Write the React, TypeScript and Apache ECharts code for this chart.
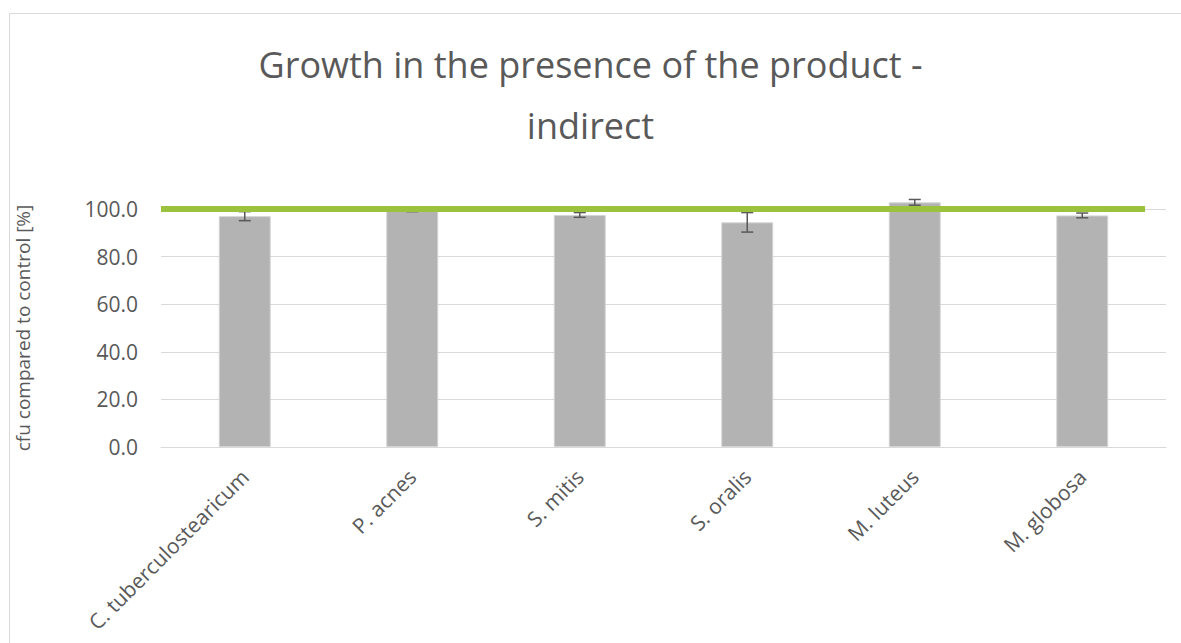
import React, { useEffect, useRef } from "react";
import * as echarts from "echarts";

const categories = [
  "C. tuberculostearicum",
  "P. acnes",
  "S. mitis",
  "S. oralis",
  "M. luteus",
  "M. globosa",
];
const growthValues = [97.0, 99.3, 97.5, 94.4, 102.8, 97.3];
const errorValues = [1.9, 0.4, 1.0, 4.1, 1.2, 1.0];
const controlLineX = [0, 5.875];
const controlLineY = [100, 100];
const yTicks = [0, 20, 40, 60, 80, 100];
const titleLines = ["Growth in the presence of the product -", "indirect"];

const TEXT = "#595959";
const FONT = "'Open Sans', 'Noto Sans', sans-serif";

export default function App() {
  const ref = useRef<HTMLDivElement>(null);
  useEffect(() => {
    if (!ref.current) return;
    const chart = echarts.init(ref.current, undefined, { renderer: "svg" });
    const option: any = {
      animation: false,
      backgroundColor: "#ffffff",
      textStyle: { fontFamily: FONT, color: TEXT },
      graphic: [
        {
          type: "rect",
          shape: { x: 9.5, y: 13.5, width: 1200, height: 700 },
          style: { fill: "none", stroke: "#d9d9d9", lineWidth: 1 },
          silent: true,
          z: -10,
        },
        {
          type: "text",
          x: 590.5,
          y: 46,
          style: {
            text: titleLines[0],
            fill: TEXT,
            font: `normal 36px ${FONT}`,
            textAlign: "center",
            textVerticalAlign: "top",
          },
          silent: true,
        },
        {
          type: "text",
          x: 590.5,
          y: 107,
          style: {
            text: titleLines[1],
            fill: TEXT,
            font: `normal 36px ${FONT}`,
            textAlign: "center",
            textVerticalAlign: "top",
          },
          silent: true,
        },
      ],
      grid: { left: 161, right: 15, top: 209, bottom: 196, containLabel: false },
      xAxis: [
        {
          type: "category",
          data: categories,
          axisLine: { lineStyle: { color: "#d9d9d9", width: 1 } },
          axisTick: { show: false },
          axisLabel: {
            rotate: 45,
            interval: 0,
            color: TEXT,
            fontFamily: FONT,
            fontSize: 21,
            margin: 26,
          },
        },
        {
          type: "value",
          min: 0,
          max: 6,
          show: false,
        },
      ],
      yAxis: {
        type: "value",
        min: 0,
        max: 100,
        interval: 20,
        name: "cfu compared to control [%]",
        nameLocation: "middle",
        nameGap: 129,
        nameTextStyle: { color: TEXT, fontFamily: FONT, fontSize: 19 },
        axisLine: { show: false },
        axisTick: { show: false },
        axisLabel: {
          color: TEXT,
          fontFamily: FONT,
          fontSize: 21,
          margin: 23,
          formatter: (v: number) => (yTicks.includes(v) ? v.toFixed(1) : ""),
        },
        splitLine: { lineStyle: { color: "#d9d9d9", width: 1 } },
      },
      series: [
        {
          type: "bar",
          data: growthValues,
          barWidth: "31%",
          clip: false,
          itemStyle: { color: "#b3b3b3", borderColor: "#d4d4d4", borderWidth: 1 },
          z: 2,
        },
        {
          type: "custom",
          clip: false,
          z: 4,
          data: growthValues.map((v, i) => [i, v, errorValues[i]]),
          renderItem: (params: any, api: any) => {
            const i = api.value(0);
            const v = api.value(1);
            const e = api.value(2);
            const top = api.coord([i, v + e]);
            const bot = api.coord([i, v - e]);
            const cap = 6;
            const style = { stroke: "#595959", lineWidth: 1.5 };
            return {
              type: "group",
              children: [
                { type: "line", shape: { x1: top[0], y1: top[1], x2: bot[0], y2: bot[1] }, style },
                { type: "line", shape: { x1: top[0] - cap, y1: top[1], x2: top[0] + cap, y2: top[1] }, style },
                { type: "line", shape: { x1: bot[0] - cap, y1: bot[1], x2: bot[0] + cap, y2: bot[1] }, style },
              ],
            };
          },
        },
        {
          type: "line",
          xAxisIndex: 1,
          data: controlLineX.map((x, i) => [x, controlLineY[i]]),
          symbol: "none",
          lineStyle: { color: "#9bc23c", width: 6 },
          z: 5,
        },
      ],
    };
    chart.setOption(option);
    return () => chart.dispose();
  }, []);
  return (
    <div
      ref={ref}
      style={{ position: "fixed", left: 0, top: 0, width: 1181, height: 643 }}
    />
  );
}
